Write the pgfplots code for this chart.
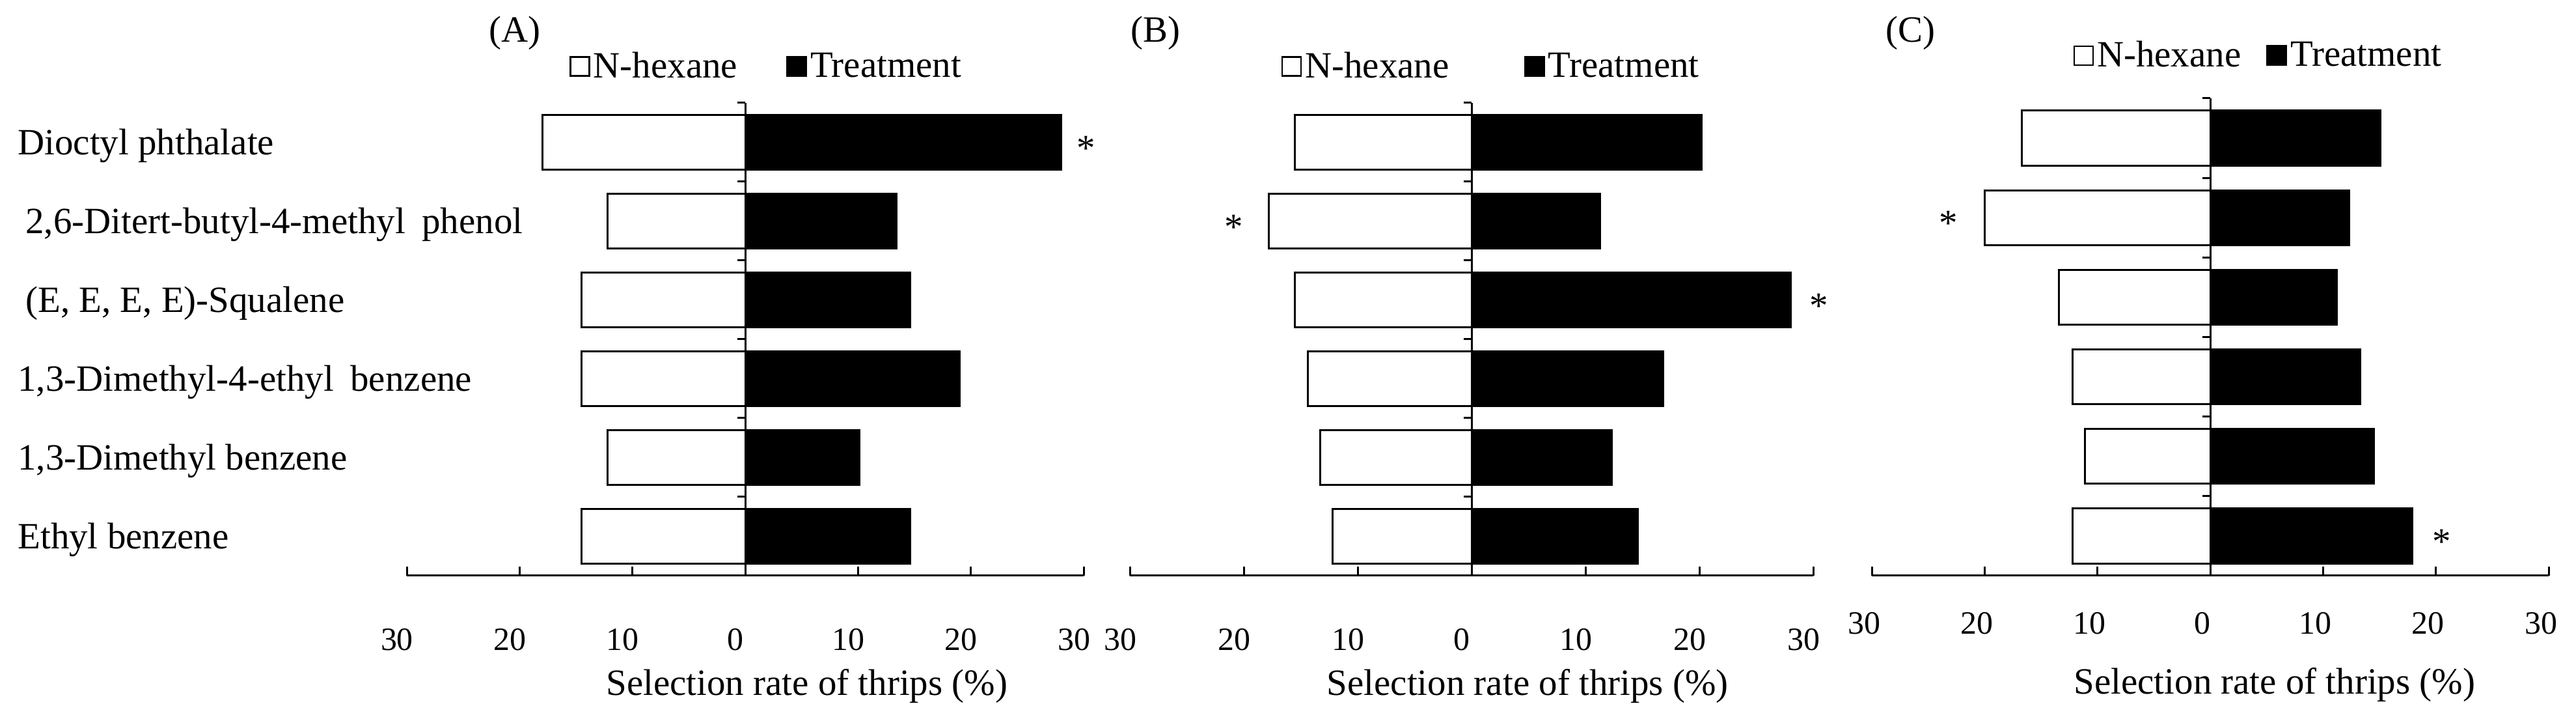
\documentclass[border=0pt]{standalone}
\usepackage{fontspec}
\setmainfont{Liberation Serif}
\usepackage{pgfplots}
\pgfplotsset{compat=1.18}

\newcommand\txt{\fontsize{16.2}{19.4}\selectfont}
\newcommand\tck{\fontsize{14.2}{17}\selectfont}

\pgfplotsset{
  panel/.style={
    scale only axis, anchor=south west,
    xmin=-30, xmax=30, ymin=-0.5, ymax=5.5,
    axis x line=bottom,
    x axis line style={-, line width=0.3mm},
    xtick={-30,-20,...,30}, xticklabels={30,20,10,0,10,20,30},
    tick align=inside, major tick length=1.4mm,
    xtick style={line width=0.3mm, black},
    xticklabel style={anchor=base, font=\tck},
    /pgf/number format/assume math mode=true,
    xbar, bar width=0.69, bar shift=0pt,
    clip=false,
    font=\txt,
    legend columns=2,
    legend cell align=left,
    legend style={draw=none, fill=none, inner sep=0pt, anchor=west,
      nodes={inner sep=0.5mm}, font=\txt},
  },
  hex/.style={draw=black, fill=white, line width=0.3mm,
    legend image code/.code={\draw[draw=black, fill=white, line width=0.25mm] (0mm,-1.45mm) rectangle (2.9mm,1.45mm);}},
  trt/.style={draw=black, fill=black, line width=0.3mm,
    legend image code/.code={\draw[draw=black, fill=black] (0mm,-1.45mm) rectangle (2.9mm,1.45mm);}},
}
\tikzset{star/.style={font=\txt, yshift=-0.9mm}}

\newcommand\midaxis{%
  \draw[line width=0.3mm] (axis cs:0,-0.5) -- (axis cs:0,5.5);
  \pgfplotsinvokeforeach{-0.5,0.5,1.5,2.5,3.5,4.5,5.5}{%
    \draw[line width=0.3mm] (axis cs:0,##1) -- ([xshift=-1.2mm]axis cs:0,##1);}%
}

\begin{document}
\begin{tikzpicture}
\useasboundingbox (0,0) rectangle (395.8mm,110.4mm);

% (A)
\begin{axis}[panel, at={(62.5mm,22.0mm)}, width=104mm, height=72.6mm,
  xticklabel style={yshift=-11.5mm, xshift=-1.5mm},
  axis y line=left, y axis line style={draw=none},
  ytick={0,1,2,3,4,5}, ytick style={draw=none},
  yticklabels={Ethyl benzene,
    1{,}3-Dimethyl benzene,
    1{,}3-Dimethyl-4-ethyl\hspace{0.45em}benzene,
    \hspace{1.2mm}(E{,} E{,} E{,} E)-Squalene,
    \hspace{1.2mm}2{,}6-Ditert-butyl-4-methyl\hspace{0.45em}phenol,
    Dioctyl phthalate},
  yticklabel style={anchor=base west, xshift=-60.3mm, yshift=-1.9mm, font=\txt},
  xlabel={Selection rate of thrips (\%)},
  xlabel style={at={(rel axis cs:0.591,-0.2534)}, anchor=base},
  legend style={at={(rel axis cs:0.240,1.077)},
    /tikz/every even column/.append style={column sep=7mm}},
]
\addplot[hex] coordinates {(-14.5,0) (-12.2,1) (-14.5,2) (-14.5,3) (-12.2,4) (-18.0,5)};
\addplot[trt] coordinates {(14.6,0) (10.1,1) (19.0,2) (14.6,3) (13.4,4) (28.0,5)};
\legend{N-hexane, Treatment}
\midaxis
\node[star] at (axis cs:30.2,5) {*};
\end{axis}

% (B)
\begin{axis}[panel, at={(173.6mm,22.0mm)}, width=105mm, height=72.6mm,
  xticklabel style={yshift=-11.5mm, xshift=-1.5mm},
  axis y line=none, ytick=\empty,
  xlabel={Selection rate of thrips (\%)},
  xlabel style={at={(rel axis cs:0.582,-0.2534)}, anchor=base},
  legend style={at={(rel axis cs:0.221,1.077)},
    /tikz/every even column/.append style={column sep=11mm}},
]
\addplot[hex] coordinates {(-12.2,0) (-13.3,1) (-14.4,2) (-15.5,3) (-17.8,4) (-15.5,5)};
\addplot[trt] coordinates {(14.6,0) (12.3,1) (16.8,2) (28.0,3) (11.3,4) (20.2,5)};
\legend{N-hexane, Treatment}
\midaxis
\node[star] at (axis cs:-20.9,4) {*};
\node[star] at (axis cs:30.5,3) {*};
\end{axis}

% (C)
\begin{axis}[panel, at={(287.6mm,22.0mm)}, width=104mm, height=73.3mm,
  xticklabel style={yshift=-9mm, xshift=-1.2mm},
  axis y line=none, ytick=\empty,
  xlabel={Selection rate of thrips (\%)},
  xlabel style={at={(rel axis cs:0.595,-0.248)}, anchor=base},
  legend style={at={(rel axis cs:0.297,1.0895)},
    /tikz/every even column/.append style={column sep=3.4mm}},
]
\addplot[hex] coordinates {(-12.2,0) (-11.1,1) (-12.2,2) (-13.4,3) (-20.0,4) (-16.7,5)};
\addplot[trt] coordinates {(17.9,0) (14.5,1) (13.3,2) (11.2,3) (12.3,4) (15.1,5)};
\legend{N-hexane, Treatment}
\midaxis
\node[star] at (axis cs:-23.2,4) {*};
\node[star] at (axis cs:20.5,0) {*};
\end{axis}

\node[font=\txt] at (79.1mm,105.3mm) {(A)};
\node[font=\txt] at (177.5mm,105.3mm) {(B)};
\node[font=\txt] at (293.5mm,105.3mm) {(C)};
\end{tikzpicture}
\end{document}
